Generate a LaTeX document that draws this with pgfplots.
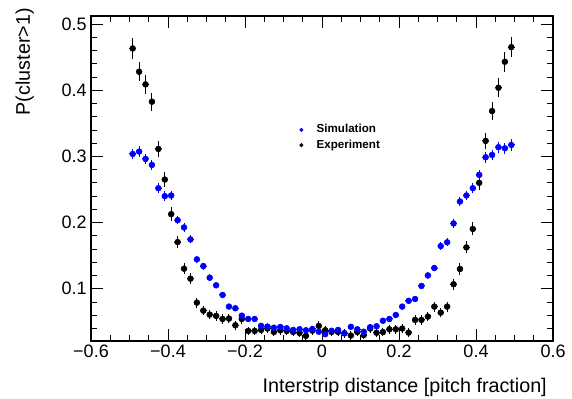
\documentclass[border=0pt]{standalone}
\usepackage{fontspec}
\setmainfont{Liberation Sans}
\usepackage{pgfplots}
\pgfplotsset{compat=1.18}
\usepackage{pgfplotstable}

\pgfplotstableread{
x y ey
-0.4917 0.3037 0.0082
-0.4750 0.3073 0.0082
-0.4583 0.2962 0.0080
-0.4417 0.2871 0.0079
-0.4250 0.2519 0.0073
-0.4083 0.2399 0.0071
-0.3917 0.2409 0.0071
-0.3750 0.2036 0.0065
-0.3583 0.1926 0.0063
-0.3417 0.1745 0.0060
-0.3250 0.1443 0.0055
-0.3083 0.1342 0.0053
-0.2917 0.1166 0.0050
-0.2750 0.1051 0.0048
-0.2583 0.0905 0.0045
-0.2417 0.0729 0.0042
-0.2250 0.0704 0.0042
-0.2083 0.0592 0.0040
-0.1917 0.0542 0.0039
-0.1750 0.0542 0.0039
-0.1583 0.0437 0.0037
-0.1417 0.0427 0.0037
-0.1250 0.0410 0.0037
-0.1083 0.0421 0.0037
-0.0917 0.0401 0.0037
-0.0750 0.0376 0.0036
-0.0583 0.0387 0.0036
-0.0417 0.0371 0.0036
-0.0250 0.0391 0.0036
-0.0083 0.0349 0.0036
0.0083 0.0312 0.0035
0.0250 0.0363 0.0036
0.0417 0.0376 0.0036
0.0583 0.0325 0.0035
0.0750 0.0423 0.0037
0.0917 0.0386 0.0036
0.1083 0.0349 0.0036
0.1250 0.0417 0.0037
0.1417 0.0432 0.0037
0.1583 0.0515 0.0039
0.1750 0.0542 0.0039
0.1917 0.0602 0.0040
0.2083 0.0729 0.0042
0.2250 0.0816 0.0044
0.2417 0.0844 0.0044
0.2583 0.1041 0.0048
0.2750 0.1200 0.0050
0.2917 0.1312 0.0052
0.3083 0.1644 0.0058
0.3250 0.1701 0.0059
0.3417 0.1986 0.0064
0.3583 0.2318 0.0069
0.3750 0.2409 0.0071
0.3917 0.2519 0.0073
0.4083 0.2721 0.0076
0.4250 0.2987 0.0081
0.4417 0.3022 0.0081
0.4583 0.3139 0.0083
0.4750 0.3123 0.0083
0.4917 0.3173 0.0084
}\simdata

\pgfplotstableread{
x y ey
-0.4917 0.4632 0.0153
-0.4750 0.4280 0.0146
-0.4583 0.4089 0.0142
-0.4417 0.3827 0.0137
-0.4250 0.3113 0.0122
-0.4083 0.2650 0.0113
-0.3917 0.2127 0.0103
-0.3750 0.1705 0.0094
-0.3583 0.1302 0.0086
-0.3417 0.1151 0.0083
-0.3250 0.0789 0.0076
-0.3083 0.0668 0.0073
-0.2917 0.0608 0.0072
-0.2750 0.0588 0.0072
-0.2583 0.0542 0.0071
-0.2417 0.0548 0.0071
-0.2250 0.0447 0.0069
-0.2083 0.0542 0.0071
-0.1917 0.0361 0.0067
-0.1750 0.0361 0.0067
-0.1583 0.0377 0.0068
-0.1417 0.0397 0.0068
-0.1250 0.0346 0.0067
-0.1083 0.0371 0.0067
-0.0917 0.0361 0.0067
-0.0750 0.0346 0.0067
-0.0583 0.0331 0.0067
-0.0417 0.0286 0.0066
-0.0250 0.0366 0.0067
-0.0083 0.0437 0.0069
0.0083 0.0371 0.0067
0.0250 0.0346 0.0067
0.0417 0.0346 0.0067
0.0583 0.0326 0.0067
0.0750 0.0291 0.0066
0.0917 0.0346 0.0067
0.1083 0.0299 0.0066
0.1250 0.0397 0.0068
0.1417 0.0334 0.0067
0.1583 0.0344 0.0067
0.1750 0.0386 0.0068
0.1917 0.0386 0.0068
0.2083 0.0397 0.0068
0.2250 0.0336 0.0067
0.2417 0.0528 0.0071
0.2583 0.0528 0.0071
0.2750 0.0578 0.0072
0.2917 0.0729 0.0075
0.3083 0.0638 0.0073
0.3250 0.0729 0.0075
0.3417 0.1067 0.0081
0.3583 0.1298 0.0086
0.3750 0.1624 0.0092
0.3917 0.1903 0.0098
0.4083 0.2600 0.0112
0.4250 0.3234 0.0125
0.4417 0.3686 0.0134
0.4583 0.4038 0.0141
0.4750 0.4431 0.0149
0.4917 0.4652 0.0153
}\expdata

\begin{document}
\begin{tikzpicture}
\path[use as bounding box] (-68.25pt,-43.5pt) rectangle (360.75pt,255.75pt);
\begin{axis}[
  scale only axis,
  width=346.5pt, height=243.75pt,
  at={(0pt,0pt)}, anchor=south west,
  xmin=-0.6, xmax=0.6, ymin=0.0209, ymax=0.5123,
  xtick={-0.6,-0.4,-0.2,0,0.2,0.4,0.6},
  xticklabels={−0.6,−0.4,−0.2,0,0.2,0.4,0.6},
  minor xtick={-0.55,-0.5,-0.45,-0.35,-0.3,-0.25,-0.15,-0.1,-0.05,0.05,0.1,0.15,0.25,0.3,0.35,0.45,0.5,0.55},
  ytick={0.1,0.2,0.3,0.4,0.5},
  yticklabels={0.1,0.2,0.3,0.4,0.5},
  minor ytick={0.04,0.06,0.08,0.12,0.14,0.16,0.18,0.22,0.24,0.26,0.28,0.32,0.34,0.36,0.38,0.42,0.44,0.46,0.48},
  tick align=inside,
  tick pos=both,
  ticklabel pos=left,
  major tick length=9pt,
  minor tick length=4.5pt,
  every tick/.style={black, line width=0.6pt},
  axis line style={line width=0.8pt},
  tick label style={font=\fontsize{13.5}{16}\selectfont},
  xticklabel style={anchor=base, inner sep=0pt, yshift=-12.75pt},
  yticklabel style={anchor=east, inner sep=0pt, xshift=-3pt},
  xlabel={Interstrip distance [pitch fraction]},
  ylabel={P(cluster>1)},
  label style={font=\fontsize{14.8}{17}\selectfont},
  xlabel style={at={([xshift=-4.5pt,yshift=-38.5pt]rel axis cs:1,0)}, anchor=base east, inner sep=0pt},
  ylabel style={at={([xshift=-45.75pt,yshift=6pt]rel axis cs:0,1)}, anchor=base east, inner sep=0pt},
  legend style={at={(rel axis cs:0.451,0.626)}, anchor=west, draw=none, fill=none,
    font=\bfseries\fontsize{8.7}{10}\selectfont, inner sep=0pt, row sep=1pt,
    nodes={inner sep=1.2pt, text height=6.3pt, text depth=1.8pt},
    /tikz/every odd column/.append style={column sep=9pt}},
  legend cell align=left,
  reverse legend,
  legend image code/.code={\draw[#1, mark size=1.3pt] plot coordinates {(0.2cm,0cm)};},
]
\addplot[only marks, mark=*, mark size=2.2pt, color=black,
  error bars/.cd, y dir=both, y explicit, x dir=both, x fixed=0.0083,
  error bar style={line width=0.75pt, black}, error mark=none]
  table[x=x, y=y, y error=ey] {\expdata};
\addlegendentry{Experiment}
\addplot[only marks, mark=*, mark size=2.2pt, color=blue,
  error bars/.cd, y dir=both, y explicit, x dir=both, x fixed=0.0083,
  error bar style={line width=0.75pt, blue}, error mark=none]
  table[x=x, y=y, y error=ey] {\simdata};
\addlegendentry{Simulation}
\end{axis}
\end{tikzpicture}
\end{document}
